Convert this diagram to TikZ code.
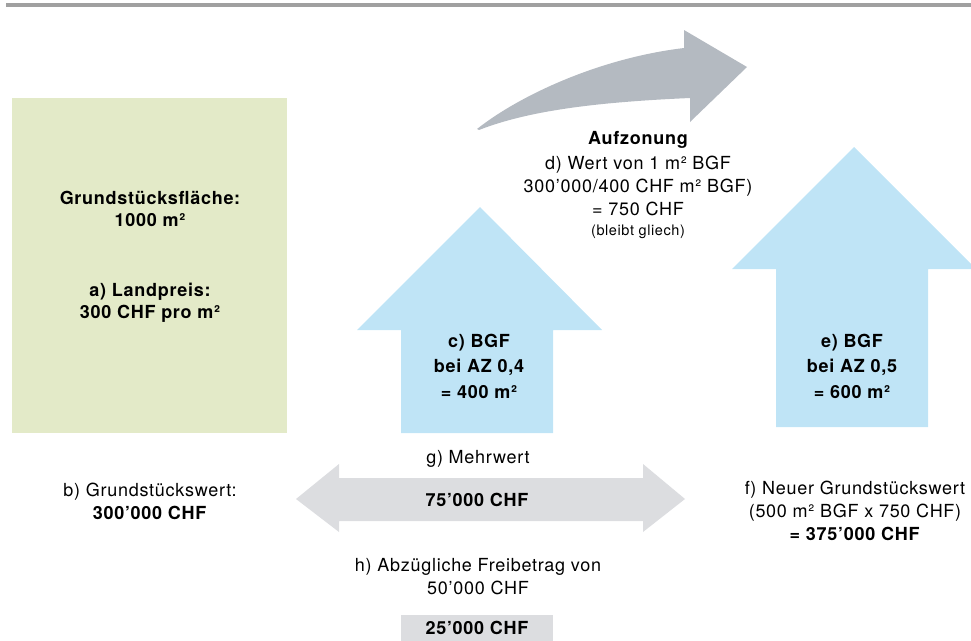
\documentclass[tikz,border=0pt]{standalone}
\usepackage{fontspec}
\setmainfont{TeX Gyre Heros}[LetterSpace=4]
\definecolor{topbar}{RGB}{160,160,160}
\definecolor{landgreen}{RGB}{227,234,200}
\definecolor{bgfblue}{RGB}{191,228,246}
\definecolor{zonegray}{RGB}{180,186,193}
\definecolor{valgray}{RGB}{220,221,224}
\begin{document}
\begin{tikzpicture}[x=1pt,y=-1pt,
  txt/.style={font=\fontsize{18}{23}\selectfont, align=center, inner sep=0pt, text=black},
  btxt/.style={font=\fontsize{18}{22}\selectfont\bfseries, align=center, inner sep=0pt, text=black},
  stxt/.style={font=\fontsize{14.5}{18}\selectfont, align=center, inner sep=0pt, text=black}]
\useasboundingbox (0,0) rectangle (971,640);
% top bar
\fill[topbar] (6,3) rectangle (971,7);
% land rectangle
\fill[landgreen] (12,98) rectangle (287,433);
\node[btxt] (flaeche) at (150,209) {Grundstücksfläche:\\1000 m²};
\node[btxt] (landpreis) at (150,303) {a) Landpreis:\\300 CHF pro m²};
% BGF arrow c
\fill[bgfblue] (480,207) -- (602,330) -- (553,330) -- (553,433) -- (401,433) -- (401,330) -- (357,330) -- cycle;
\node[btxt, font=\fontsize{18}{25.5}\selectfont\bfseries] (bgfc) at (479,366) {c) BGF\\bei AZ 0,4\\= 400 m²};
% BGF arrow e
\fill[bgfblue] (854,147) -- (976,269) -- (928,269) -- (928,427) -- (776,427) -- (776,269) -- (732,269) -- cycle;
\node[btxt, font=\fontsize{18}{25.5}\selectfont\bfseries] (bgfe) at (852,366) {e) BGF\\bei AZ 0,5\\= 600 m²};
% curved Aufzonung arrow
\fill[zonegray] (477,129) .. controls (520,95) and (600,58) .. (684,48)
  -- (684,30) -- (747,67) -- (690,122) -- (690,98)
  .. controls (600,102) and (530,110) .. (479,130) -- cycle;
\node[btxt] (aufz) at (638,140) {Aufzonung};
\node[txt] (wert) at (638,186) {d) Wert von 1 m² BGF\\300’000/400 CHF m² BGF)\\= 750 CHF};
\node[stxt] (bleibt) at (638,232) {(bleibt gliech)};
% left value
\node[txt] (gswert) at (150,501) {b) Grundstückswert:\\\textbf{300’000 CHF}};
% double arrow Mehrwert
\fill[valgray] (296,499) -- (339,464) -- (339,478) -- (643,478) -- (643,464) -- (685,499) -- (643,532) -- (643,521) -- (339,521) -- (339,532) -- cycle;
\node[txt] (mehrwert) at (478,459) {g) Mehrwert};
\node[btxt] (mw) at (477,500) {75’000 CHF};
% new value
\node[txt] (neu) at (855,511) {f) Neuer Grundstückswert\\(500 m² BGF x 750 CHF)\\\textbf{= 375’000 CHF}};
% Freibetrag
\node[txt] (frei) at (478,577) {h) Abzügliche Freibetrag von\\50’000 CHF};
\fill[valgray] (401,615) rectangle (553,641);
\node[btxt] (rest) at (477,628) {25’000 CHF};
\end{tikzpicture}
\end{document}
